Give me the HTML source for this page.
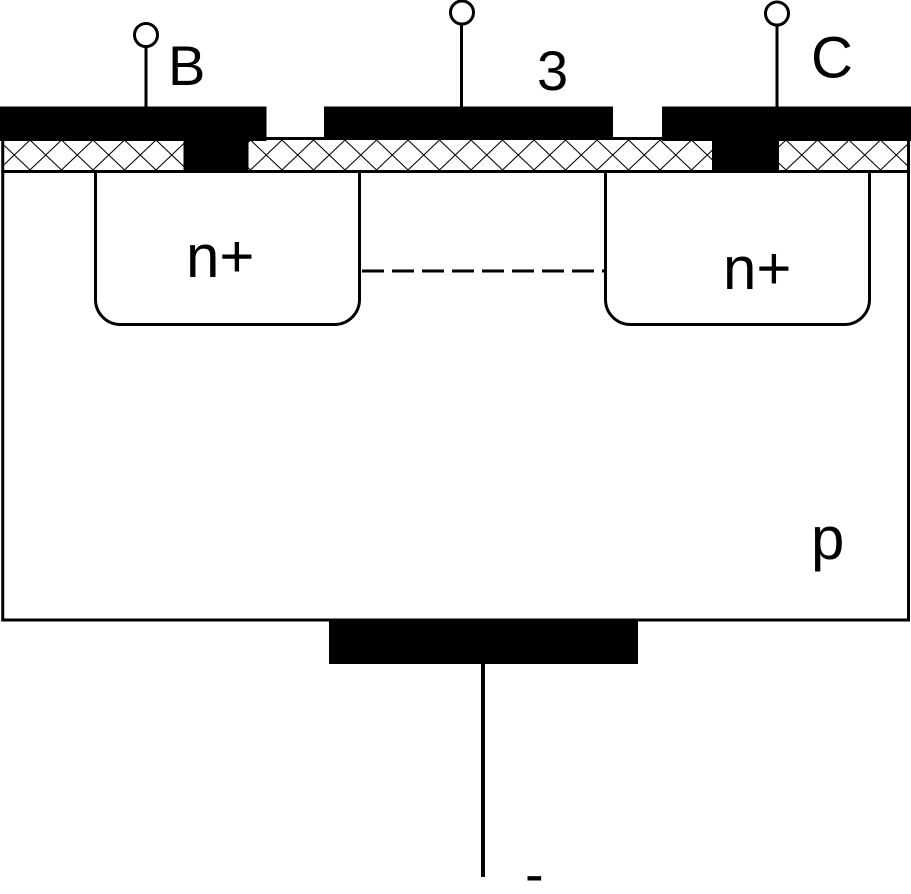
<!DOCTYPE html>
<html>
<head>
<meta charset="utf-8">
<style>
  html, body { margin: 0; padding: 0; background: #ffffff; }
  body { width: 911px; height: 894px; overflow: hidden; }
  svg { display: block; }
  text { font-family: "Liberation Sans", Arial, sans-serif; fill: #000; }
</style>
</head>
<body>
<svg width="911" height="894" viewBox="0 0 911 894" xmlns="http://www.w3.org/2000/svg">
  <defs>
    <pattern id="hatch" patternUnits="userSpaceOnUse" x="-1.5" y="140" width="31.5" height="30">
      <line x1="0" y1="0" x2="31.5" y2="30" stroke="#000" stroke-width="1"/>
      <line x1="31.5" y1="0" x2="0" y2="30" stroke="#000" stroke-width="1"/>
    </pattern>
  </defs>

  <rect x="0" y="0" width="911" height="894" fill="#fff"/>

  <!-- oxide layer (hatched) -->
  <rect x="2.75" y="140" width="905.75" height="30" fill="url(#hatch)"/>
  <line x1="2.75" y1="138.5" x2="908.5" y2="138.5" stroke="#000" stroke-width="3"/>
  <line x1="2.75" y1="138" x2="2.75" y2="172" stroke="#000" stroke-width="3"/>
  <line x1="908.5" y1="138" x2="908.5" y2="172" stroke="#000" stroke-width="3"/>

  <!-- p substrate box -->
  <rect x="2.75" y="171.5" width="905.75" height="448.5" fill="none" stroke="#000" stroke-width="3"/>

  <!-- top metals -->
  <rect x="0" y="106.5" width="266.5" height="34.5" fill="#000"/>
  <rect x="183.5" y="139" width="65" height="33" fill="#000"/>
  <rect x="324" y="106.5" width="289" height="32.5" fill="#000"/>
  <rect x="662" y="106.5" width="249" height="34.5" fill="#000"/>
  <rect x="712" y="139" width="67" height="33" fill="#000"/>

  <!-- terminals -->
  <line x1="146" y1="46" x2="146" y2="107" stroke="#000" stroke-width="3"/>
  <circle cx="146" cy="35" r="11.5" fill="#fff" stroke="#000" stroke-width="3"/>
  <line x1="461.5" y1="24" x2="461.5" y2="107" stroke="#000" stroke-width="3"/>
  <circle cx="462" cy="12.5" r="11.5" fill="#fff" stroke="#000" stroke-width="3"/>
  <line x1="777" y1="25" x2="777" y2="107" stroke="#000" stroke-width="3"/>
  <circle cx="777" cy="13.5" r="11.5" fill="#fff" stroke="#000" stroke-width="3"/>

  <!-- n+ wells -->
  <path d="M95.5 171.5 V299.5 A25 25 0 0 0 120.5 324.5 H334.5 A25 25 0 0 0 359.5 299.5 V171.5" fill="none" stroke="#000" stroke-width="3"/>
  <path d="M605.5 171.5 V299.5 A25 25 0 0 0 630.5 324.5 H844.5 A25 25 0 0 0 869.5 299.5 V171.5" fill="none" stroke="#000" stroke-width="3"/>

  <!-- dashed channel -->
  <line x1="362" y1="271" x2="604" y2="271" stroke="#000" stroke-width="3" stroke-dasharray="22 8"/>

  <!-- bottom contact -->
  <rect x="329" y="620" width="309" height="44" fill="#000"/>
  <line x1="483" y1="663" x2="483" y2="877" stroke="#000" stroke-width="4"/>

  <!-- labels -->
  <text x="168" y="85" font-size="56">B</text>
  <text x="537" y="90" font-size="56">3</text>
  <text x="811" y="77.5" font-size="58">C</text>
  <text x="186" y="277" font-size="60">n+</text>
  <text x="723" y="289" font-size="60">n+</text>
  <text x="811" y="559" font-size="60">p</text>
  <text x="525" y="893" font-size="56">-</text>
</svg>
</body>
</html>
